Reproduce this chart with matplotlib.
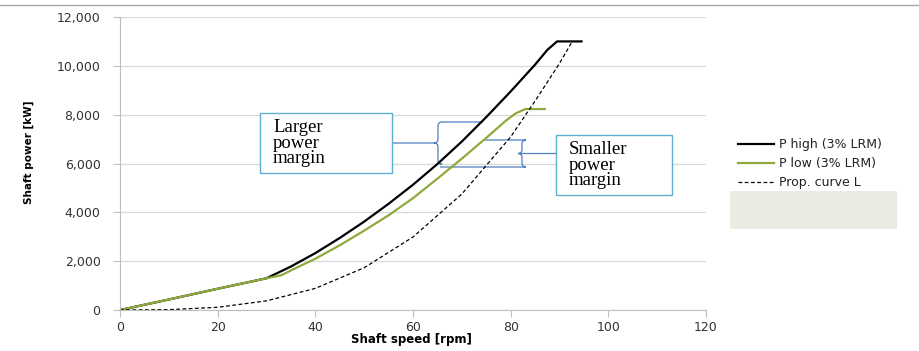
import matplotlib
matplotlib.use('Agg')
import matplotlib.pyplot as plt
from matplotlib.path import Path
from matplotlib.patches import PathPatch, Rectangle
from matplotlib.lines import Line2D

# values
rpm_high = [0, 10, 20, 30, 35, 40, 45, 50, 55, 60, 65, 70, 75, 80, 85, 87.5, 89.5, 94.5]
kw_high = [0, 430, 870, 1300, 1780, 2330, 2950, 3620, 4350, 5130, 5980, 6900, 7900, 8950, 10050, 10650, 11000, 11000]

rpm_low = [0, 10, 20, 30, 33, 35, 40, 45, 50, 55, 60, 65, 70, 75, 79, 81, 83, 87]
kw_low = [0, 430, 870, 1300, 1420, 1620, 2100, 2650, 3250, 3880, 4580, 5380, 6200, 7050, 7750, 8050, 8230, 8230]

rpm_prop = [0, 10, 20, 30, 40, 50, 60, 70, 80, 85, 90, 92.6]
kw_prop = [0, 14, 110, 375, 885, 1730, 2990, 4750, 7090, 8560, 10100, 11000]

x_ticks = [0, 20, 40, 60, 80, 100, 120]
y_ticks = [0, 2000, 4000, 6000, 8000, 10000, 12000]

labels = ['P high (3% LRM)', 'P low (3% LRM)', 'Prop. curve L']
black = '#000000'
green = '#8faa3c'
blue = '#4f7fbf'
boxc = '#5fb0cf'

fig = plt.figure(figsize=(9.19, 3.51), dpi=100)
ax = fig.add_axes([120 / 919, 41 / 351, 586 / 919, 293 / 351])

ax.plot(rpm_high, kw_high, color=black, lw=1.6, label=labels[0])
ax.plot(rpm_low, kw_low, color=green, lw=1.6, label=labels[1])
ax.plot(rpm_prop, kw_prop, color=black, lw=0.9, ls=(0, (3, 2)), label=labels[2])

ax.set_xlim(0, 120)
ax.set_ylim(0, 12000)
ax.set_xticks(x_ticks)
ax.set_yticks(y_ticks)
ax.set_yticklabels([f'{v:,}' for v in y_ticks])
ax.yaxis.grid(True, color='#d9d9d9', lw=0.9)
ax.set_axisbelow(True)
for s in ['top', 'right']:
    ax.spines[s].set_visible(False)
for s in ['left', 'bottom']:
    ax.spines[s].set_color('#bfbfbf')
ax.tick_params(colors='#bfbfbf', labelcolor='#333333', labelsize=9, length=5, width=0.8)
ax.tick_params(axis='y', pad=9)
ax.tick_params(axis='x', pad=3)
ax.set_xlabel('Shaft speed [rpm]', fontsize=8.5, fontweight='bold')
ax.set_ylabel('Shaft power [kW]', fontsize=7.5, fontweight='bold')
ax.xaxis.set_label_coords((411 - 120) / 586, (310 - 333) / 293)
ax.yaxis.set_label_coords((34 - 120) / 586, (310 - 152) / 293)


def px(x, y):
    # reference pixel -> data coordinates for the annotation shapes
    return (x - 120) / 586 * 120, (310 - y) / 293 * 12000


def brace(xv, ytop, ybot, xtop, xbot, xleft, r=4):
    ym = (ytop + ybot) / 2
    pts = [(xtop, ytop), (xv + r, ytop), (xv, ytop), (xv, ytop + r),
           (xv, ym - r), (xv, ym), (xv - r, ym), (xleft, ym),
           (xv - r, ym), (xv, ym), (xv, ym + r),
           (xv, ybot - r), (xv, ybot), (xv + r, ybot), (xbot, ybot)]
    codes = [Path.MOVETO, Path.LINETO, Path.CURVE3, Path.CURVE3,
             Path.LINETO, Path.CURVE3, Path.CURVE3, Path.LINETO,
             Path.MOVETO, Path.CURVE3, Path.CURVE3,
             Path.LINETO, Path.CURVE3, Path.CURVE3, Path.LINETO]
    ax.add_patch(PathPatch(Path([px(*p) for p in pts], codes), fill=False,
                           ec=blue, lw=0.9, clip_on=False))


brace(438, 122, 164, 483, 440, 392)
brace(522, 140, 167, 485, 440, 556)

for (x0, y0, x1, y1), txt in [((260, 113, 392, 173), 'Larger\npower\nmargin'),
                              ((556, 135, 672, 195), 'Smaller\npower\nmargin')]:
    a = px(x0, y1)
    b = px(x1, y0)
    ax.add_patch(Rectangle(a, b[0] - a[0], b[1] - a[1], fc='white', ec=boxc,
                           lw=1.0, clip_on=False, zorder=3))
    tx, ty = px(x0 + 13, (y0 + y1) / 2)
    ax.text(tx, ty, txt, family='Liberation Serif', fontsize=13.5, va='center',
            ha='left', linespacing=0.88, zorder=4)

leg = ax.legend(loc='upper left', bbox_to_anchor=(738 / 919, 1 - 138 / 351),
                bbox_transform=fig.transFigure, frameon=False, fontsize=9,
                handlelength=2.9, handletextpad=0.35, labelspacing=0.5,
                borderaxespad=0, borderpad=0)
for t in leg.get_texts():
    t.set_color('#222222')

fig.patches.append(Rectangle((730 / 919, 1 - 229 / 351), 167 / 919, 38 / 351,
                             transform=fig.transFigure, fc='#ecebe1', ec='none',
                             zorder=-1))
fig.lines.append(Line2D([0, 1], [1 - 5 / 351, 1 - 5 / 351], transform=fig.transFigure,
                        color='#a6a6a6', lw=1.0))

fig.savefig('out.png', dpi=100)
